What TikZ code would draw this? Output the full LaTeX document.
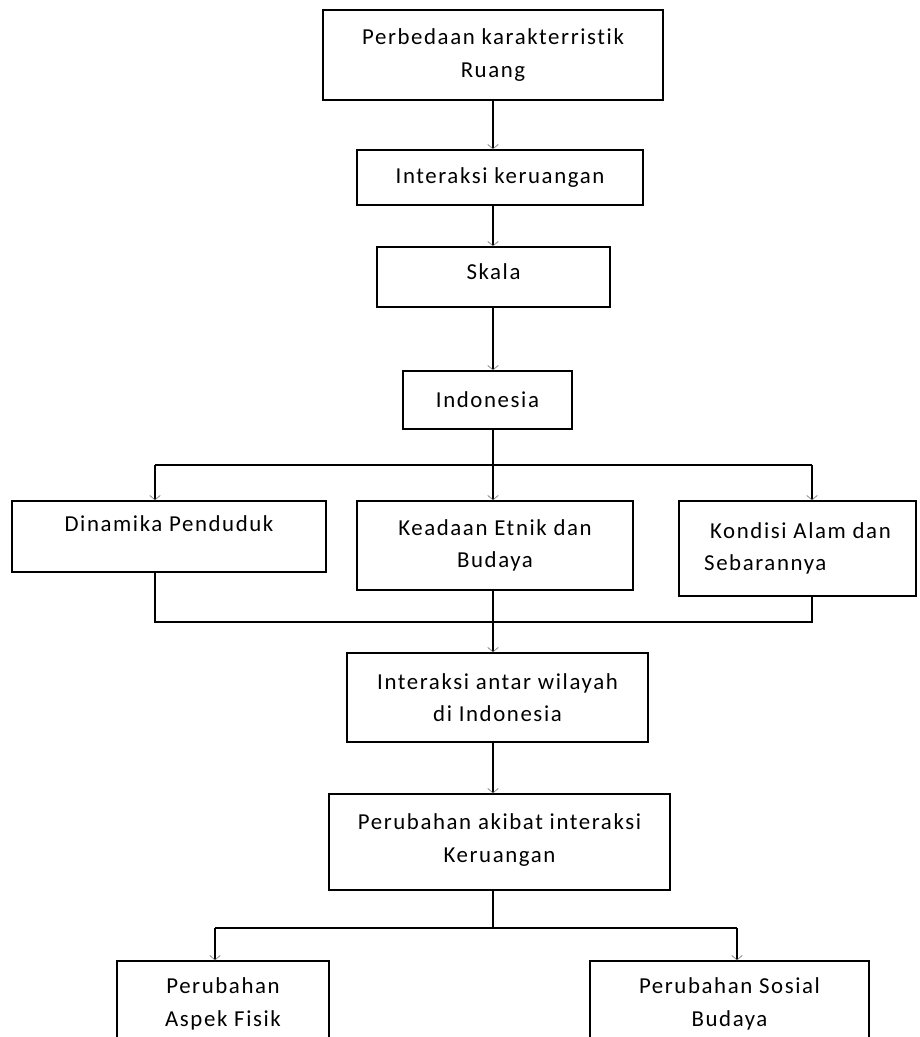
\documentclass[tikz,border=0pt]{standalone}
\usepackage{fontspec}
\setmainfont{Carlito}[LetterSpace=7, Ligatures=NoCommon]
\usetikzlibrary{arrows.meta, positioning}

\tikzset{
    kotak/.style={draw, line width=0.8pt, inner sep=0pt, align=center,
        font=\fontsize{13}{18.5}\selectfont},
    garis/.style={line width=0.8pt},
    panah/.style={garis, -{Straight Barb[length=2.5pt, width=6pt, line width=0.4pt, color=black!50]}}
}

\begin{document}
\begin{tikzpicture}[x=0.02cm, y=-0.02cm]
    % Batas gambar
    \useasboundingbox (0,0) rectangle (919,1037);
    \clip (0,0) rectangle (919,1037);

    % Kotak-kotak utama
    \node[kotak, minimum width=6.8cm, minimum height=1.8cm] (ruang) at (493,55) {Perbedaan karakterristik\\Ruang};
    \node[kotak, minimum width=5.72cm, minimum height=1.1cm] (keruangan) at (500,177.5) {Interaksi keruangan};
    \node[kotak, minimum width=4.66cm, minimum height=1.2cm] (skala) at (493.5,277) {Skala\\[-12.8pt]\mbox{}};
    \node[kotak, minimum width=3.38cm, minimum height=1.16cm] (indonesia) at (487.5,400) {Indonesia};

    % Tiga cabang
    \node[kotak, minimum width=6.28cm, minimum height=1.42cm] (dinamika) at (169,536.5) {Dinamika Penduduk\\[-4pt]\mbox{}};
    \node[kotak, minimum width=5.52cm, minimum height=1.78cm] (etnik) at (495,545.5) {Keadaan Etnik dan\\Budaya};
    \node[kotak, minimum width=4.74cm, minimum height=1.9cm, align=left] (alam) at (797.5,548.5) {\hspace{0.12cm}Kondisi Alam dan\\Sebarannya};

    \node[kotak, minimum width=6.02cm, minimum height=1.78cm] (antar) at (497.5,697.5) {Interaksi antar wilayah\\di Indonesia};
    \node[kotak, minimum width=6.82cm, minimum height=1.92cm] (akibat) at (499.5,842) {Perubahan akibat interaksi\\Keruangan\\[-14pt]\mbox{}};

    % Dua cabang bawah
    \node[kotak, minimum width=4.24cm, minimum height=1.72cm] (fisik) at (223,1004) {Perubahan\\Aspek Fisik};
    \node[kotak, minimum width=5.58cm, minimum height=1.72cm] (sosial) at (729.5,1004) {Perubahan Sosial\\Budaya};

    % Titik percabangan
    \coordinate (bagi) at (493,465);
    \coordinate (bagiKiri) at (155,465);
    \coordinate (bagiKanan) at (812,465);
    \coordinate (gabung) at (493,622);
    \coordinate (gabungKiri) at (155,622);
    \coordinate (gabungKanan) at (812,622);
    \coordinate (pecah) at (493,928);
    \coordinate (pecahKiri) at (215,928);
    \coordinate (pecahKanan) at (737,928);

    % Alur atas
    \draw[panah] (ruang.south) -- (ruang.south |- keruangan.north);
    \draw[panah] (ruang.south |- keruangan.south) -- (ruang.south |- skala.north);
    \draw[panah] (ruang.south |- skala.south) -- (ruang.south |- indonesia.north);
    \draw[garis] (indonesia.south -| bagi) -- (bagi);

    % Cabang ke tiga kotak
    \draw[garis] (bagiKiri) -- (bagiKanan);
    \draw[panah] (bagiKiri) -- (bagiKiri |- dinamika.north);
    \draw[panah] (bagi) -- (bagi |- etnik.north);
    \draw[panah] (bagiKanan) -- (bagiKanan |- alam.north);

    % Gabungan ke interaksi antar wilayah
    \draw[garis] (dinamika.south -| gabungKiri) -- (gabungKiri) -- (gabungKanan) -- (alam.south -| gabungKanan);
    \draw[garis] (etnik.south -| gabung) -- (gabung);
    \draw[panah] (gabung) -- (gabung |- antar.north);
    \draw[panah] (antar.south -| gabung) -- (gabung |- akibat.north);

    % Cabang bawah
    \draw[garis] (akibat.south -| pecah) -- (pecah);
    \draw[garis] (pecahKiri) -- (pecahKanan);
    \draw[panah] (pecahKiri) -- (pecahKiri |- fisik.north);
    \draw[panah] (pecahKanan) -- (pecahKanan |- sosial.north);
\end{tikzpicture}
\end{document}
